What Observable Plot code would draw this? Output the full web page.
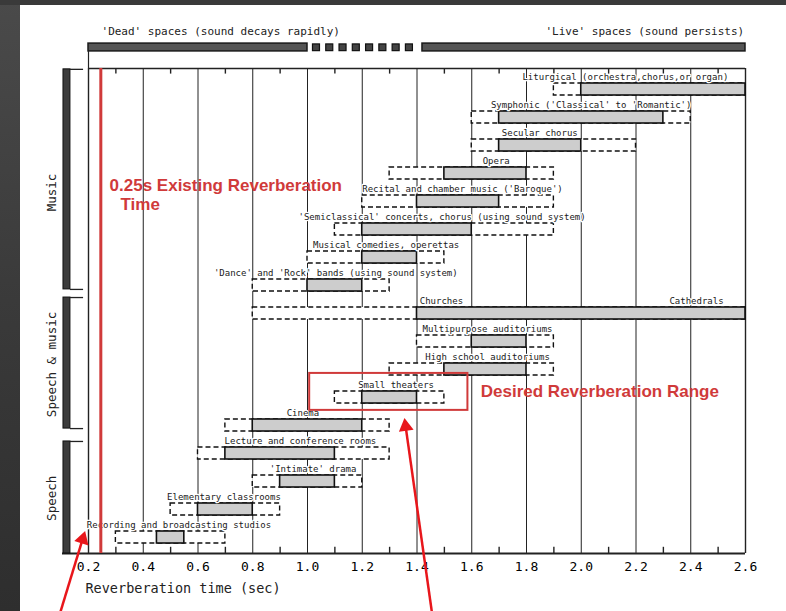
<!DOCTYPE html>
<html><head><meta charset="utf-8">
<script src="https://cdn.jsdelivr.net/npm/d3@7"></script>
<script src="https://cdn.jsdelivr.net/npm/@observablehq/plot@0.6"></script>
<style>
html,body{margin:0;padding:0;width:786px;height:611px;overflow:hidden;}
body{background:
 linear-gradient(to bottom, #3a3a3a 0px, #3a3a3a 5px, rgba(0,0,0,0) 5px),
 linear-gradient(to bottom, #4a4a4a 0px, #3a3a3a 300px, #2e2e2e 611px) 0 0 / 20px 611px no-repeat,
 #ffffff;}
#chart svg{display:block;}
</style></head><body><div id="chart"></div>
<script>
// ---- data ----
const categories = [
  "Liturgical (orchestra,chorus,or organ)",
  "Symphonic ('Classical' to 'Romantic')",
  "Secular chorus",
  "Opera",
  "Recital and chamber music ('Baroque')",
  "'Semiclassical' concerts, chorus (using sound system)",
  "Musical comedies, operettas",
  "'Dance' and 'Rock' bands (using sound system)",
  "Churches",
  "Multipurpose auditoriums",
  "High school auditoriums",
  "Small theaters",
  "Cinema",
  "Lecture and conference rooms",
  "'Intimate' drama",
  "Elementary classrooms",
  "Recording and broadcasting studios"
];
const outerLow  = [1.9, 1.6, 1.6, 1.3, 1.2, 1.1, 1.0, 0.8, 0.8, 1.4, 1.3, 1.1, 0.7, 0.6, 0.8, 0.5, 0.3];
const outerHigh = [2.6, 2.4, 2.2, 1.9, 1.9, 1.9, 1.5, 1.3, 2.6, 1.9, 1.9, 1.5, 1.3, 1.3, 1.2, 0.9, 0.7];
const innerLow  = [2.0, 1.7, 1.7, 1.5, 1.4, 1.2, 1.2, 1.0, 1.4, 1.6, 1.5, 1.2, 0.8, 0.7, 0.9, 0.6, 0.45];
const innerHigh = [2.6, 2.3, 2.0, 1.8, 1.7, 1.6, 1.4, 1.2, 2.6, 1.8, 1.8, 1.4, 1.2, 1.1, 1.1, 0.8, 0.55];
const labelX    = [1.785, 1.67, 1.71, 1.64, 1.2, 0.967, 1.02, 0.658, 1.41, 1.42, 1.43, 1.185, 0.924, 0.697, 0.862, 0.487, 0.194];

const extraLabel = ["Cathedrals"]; const extraLabelX = [2.52]; const extraLabelRow = [8];

const groupNames = ["Music", "Speech & music", "Speech"];
const groupStart = [-0.72, 7.43, 12.57];
const groupEnd   = [7.14, 12.11, 16.57];
const groupLabelRow = [3.68, 9.82, 14.6];

const xTicks = [0.2, 0.4, 0.6, 0.8, 1.0, 1.2, 1.4, 1.6, 1.8, 2.0, 2.2, 2.4, 2.6];
const xMinor = [0.3, 0.5, 0.7, 0.9, 1.1, 1.3, 1.5, 1.7, 1.9, 2.1, 2.3, 2.5];
const xLabel = "Reverberation time (sec)";

const deadText = "'Dead' spaces (sound decays rapidly)";
const liveText = "'Live' spaces (sound persists)";
const deadSpan = [0.2, 1.0];
const liveSpan = [1.42, 2.6];
const squareStarts = d3.range(8).map(i => 1.02 + i * 0.0485);

const existing = 0.245;
const existingText = ["0.25s Existing Reverberation", "Time"];
const existingTextX = [0.277, 0.317];
const existingTextRow = [3.43, 4.11];
const desiredBox = {x1: 1.008, x2: 1.586, y1: 10.14, y2: 11.46};
const desiredText = "Desired Reverberation Range";
const desiredTextX = 1.633, desiredTextRow = 10.79;
const arrowFromX = [0.098, 1.454], arrowFromRow = [18.64, 18.64];
const arrowToX   = [0.186, 1.355], arrowToRow   = [15.82, 11.79];

// ---- build ----
const rows = categories.map((name, i) => ({
  name, i, lo: outerLow[i], hi: outerHigh[i], a: innerLow[i], b: innerHigh[i], lx: labelX[i]
}));
const groups = groupNames.map((name, i) => ({name, s: groupStart[i], e: groupEnd[i], m: groupLabelRow[i]}));
const mono = "DejaVu Sans Mono, monospace";
const red = "#d03a3a";
const TOP = -0.75, BOT = 16.57;
const pxX = 657 / 2.4, pxY = 28;
const arrows = arrowFromX.map((x, i) => {
  const x2 = arrowToX[i], y2 = arrowToRow[i];
  const dxp = (x2 - x) * pxX, dyp = (y2 - arrowFromRow[i]) * pxY;
  const len = Math.hypot(dxp, dyp);
  const ux = dxp / len, uy = dyp / len;
  return {x1: x, y1: arrowFromRow[i], tx: x2, ty: y2,
          cx: x2 - ux * 7 / pxX, cy: y2 - uy * 7 / pxY,
          angle: Math.atan2(ux, -uy) * 180 / Math.PI};
});

const chart = Plot.plot({
  width: 786, height: 611,
  marginLeft: 88, marginRight: 41, marginTop: 68, marginBottom: 58,
  x: {domain: [0.2, 2.6], range: [88, 745]},
  y: {domain: [0, 16], range: [89, 537], axis: null},
  style: {background: "transparent", fontFamily: mono, overflow: "visible"},
  marks: [
    // header
    Plot.text([deadText], {x: () => 0.2475, y: () => -2.07, text: d => d, textAnchor: "start", fontSize: 11, fontFamily: mono, fill: "#222"}),
    Plot.text([liveText], {x: () => 2.595, y: () => -2.07, text: d => d, textAnchor: "end", fontSize: 11, fontFamily: mono, fill: "#222"}),
    Plot.rect([deadSpan, liveSpan], {x1: d => d[0], x2: d => d[1], y1: () => -1.64, y2: () => -1.36, fill: "#555", stroke: "#1a1a1a", strokeWidth: 1.5}),
    Plot.rect(squareStarts, {x1: d => d, x2: d => d + 0.0256, y1: () => -1.61, y2: () => -1.37, fill: "#444", stroke: "#111", strokeWidth: 1.2}),
    Plot.ruleX([0.2], {y1: () => -1.36, y2: () => TOP, stroke: "#222", strokeWidth: 1.2}),
    // grid + frame
    Plot.ruleX(xTicks.slice(1, -1), {y1: () => TOP, y2: () => BOT, stroke: "#222", strokeWidth: 1}),
    Plot.ruleX([0.2, 2.6], {y1: () => TOP, y2: () => BOT, stroke: "#222", strokeWidth: 1.4}),
    Plot.ruleY([TOP], {x1: () => 0.2, x2: () => 2.6, stroke: "#222", strokeWidth: 1.6}),
    Plot.ruleY([BOT], {x1: () => 0.105, x2: () => 2.6, stroke: "#222", strokeWidth: 2}),
    Plot.ruleX(xMinor, {y1: () => TOP, y2: () => TOP + 0.2, stroke: "#222", strokeWidth: 1.4}),
    Plot.ruleX(xMinor, {y1: () => BOT, y2: () => BOT - 0.22, stroke: "#222", strokeWidth: 1.4}),
    // group bars
    Plot.rect(groups, {x1: () => 0.1086, x2: () => 0.134, y1: "s", y2: "e", fill: "#3c3c3c", stroke: "#111", strokeWidth: 1}),
    Plot.ruleY(groups, {y: "s", x1: () => 0.134, x2: () => 0.182, stroke: "#222", strokeWidth: 1.3}),
    Plot.ruleY(groups.slice(0, 2), {y: "e", x1: () => 0.134, x2: () => 0.182, stroke: "#222", strokeWidth: 1.3}),
    Plot.text(groups, {x: () => 0.065, y: "m", text: "name", rotate: -90, fontSize: 12.5, fontFamily: mono, fill: "#222"}),
    // range bars
    Plot.rect(rows, {x1: "lo", x2: "hi", y1: d => d.i - 0.5, y2: d => d.i + 0.5, insetTop: 8, insetBottom: 8,
      fill: "white", stroke: "#111", strokeWidth: 1.4, strokeDasharray: "5,3"}),
    Plot.rect(rows, {x1: "a", x2: "b", y1: d => d.i - 0.5, y2: d => d.i + 0.5, insetTop: 8, insetBottom: 8,
      fill: "#cdcdcd", stroke: "#111", strokeWidth: 1.6}),
    Plot.text(rows, {x: "lx", y: "i", text: "name", dy: -12.5, textAnchor: "start", fontSize: 9, fontFamily: mono,
      fill: "#1a1a1a", stroke: "white", strokeWidth: 2.5, paintOrder: "stroke"}),
    Plot.text(extraLabel, {x: (d, i) => extraLabelX[i], y: (d, i) => extraLabelRow[i], text: d => d, dy: -12.5, textAnchor: "end",
      fontSize: 9, fontFamily: mono, fill: "#1a1a1a", stroke: "white", strokeWidth: 2.5, paintOrder: "stroke"}),
    // x axis
    Plot.axisX(xTicks, {tickSize: 0, tickPadding: 8, tickFormat: d3.format(".1f"), fontSize: 13, fontFamily: mono, label: null, anchor: "bottom"}),
    Plot.text([xLabel], {x: () => 0.189, y: () => 17.82, text: d => d, textAnchor: "start", fontSize: 13.5, fontFamily: mono, fill: "#222"}),
    // red annotations
    Plot.ruleX([existing], {y1: () => TOP, y2: () => BOT, stroke: red, strokeWidth: 3}),
    Plot.text(existingText, {x: (d, i) => existingTextX[i], y: (d, i) => existingTextRow[i], text: d => d, textAnchor: "start",
      fontSize: 17, fontWeight: "bold", fontFamily: "Liberation Sans, Arial, sans-serif", fill: red}),
    Plot.rect([desiredBox], {x1: "x1", x2: "x2", y1: "y1", y2: "y2", fill: "none", stroke: red, strokeWidth: 2}),
    Plot.text([desiredText], {x: () => desiredTextX, y: () => desiredTextRow, text: d => d, textAnchor: "start",
      fontSize: 17, fontWeight: "bold", fontFamily: "Liberation Sans, Arial, sans-serif", fill: red}),
    Plot.link(arrows, {x1: "x1", y1: "y1", x2: "cx", y2: "cy", stroke: "#e8161b", strokeWidth: 2.5}),
    Plot.dot(arrows, {x: "cx", y: "cy", symbol: "triangle", r: 5.5, rotate: "angle", fill: "#e8161b", stroke: "none"})
  ]
});
document.getElementById("chart").appendChild(chart);
</script></body></html>
